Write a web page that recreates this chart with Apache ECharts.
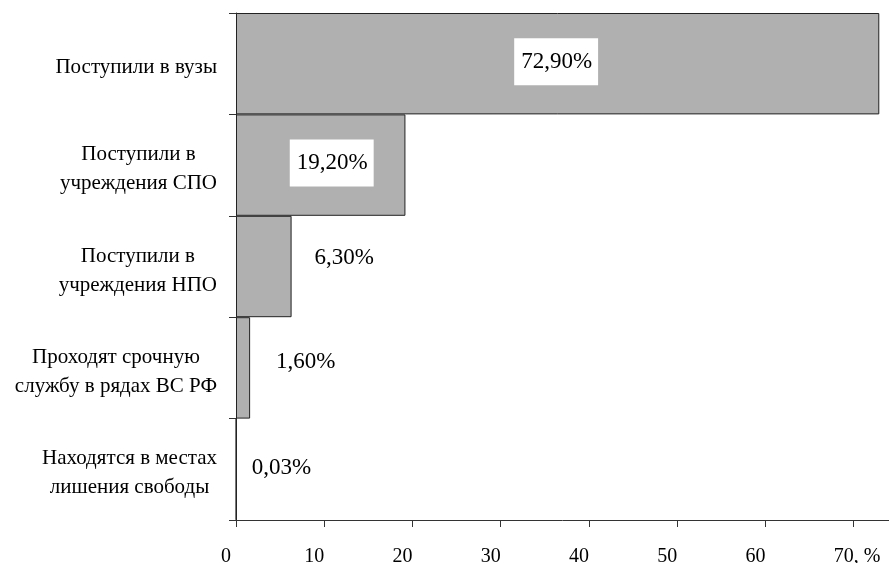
<!DOCTYPE html>
<html>
<head>
<meta charset="utf-8">
<script src="https://cdn.jsdelivr.net/npm/echarts@6/dist/echarts.min.js"></script>
<style>
  html, body { margin: 0; padding: 0; background: #fff; }
  #chart { width: 889px; height: 563px; }
</style>
</head>
<body>
<div id="chart"></div>
<script>
// Destinations of school graduates, share in percent
const categories = [
  'Поступили в вузы',
  'Поступили в\nучреждения СПО',
  'Поступили в\nучреждения НПО',
  'Проходят срочную\nслужбу в рядах ВС РФ',
  'Находятся в местах\nлишения свободы'
];
const shares = [72.9, 19.2, 6.3, 1.6, 0.03];
const tickValues = [0, 10, 20, 30, 40, 50, 60, 70];
const tickLabels = ['0', '10', '20', '30', '40', '50', '60', '70, %'];

const FONT = "'Liberation Serif', 'Times New Roman', serif";

// value label placement for each bar (boxed labels sit inside, the rest to the right)
const labelLayout = [
  { position: 'inside', offset: [-1.5, -2], boxed: true },
  { position: 'inside', offset: [11, -2], boxed: true },
  { position: 'right', distance: 23, offset: [0, -9] },
  { position: 'right', distance: 26, offset: [0, -6] },
  { position: 'right', distance: 15, offset: [0, -1.5] }
];

function formatShare(v) {
  return v.toFixed(2).replace('.', ',') + '%';
}

const barData = shares.map(function (v, i) {
  const lay = labelLayout[i];
  const label = {
    show: true,
    position: lay.position,
    offset: lay.offset,
    formatter: formatShare(v),
    color: '#000',
    fontFamily: FONT,
    fontSize: 23,
    lineHeight: 23
  };
  if (lay.distance != null) label.distance = lay.distance;
  if (lay.boxed) {
    label.backgroundColor = '#fff';
    label.padding = [12, 6, 12, 7];
  }
  return { value: v, label: label };
});

const chart = echarts.init(document.getElementById('chart'), null, { renderer: 'canvas' });

chart.setOption({
  animation: false,
  backgroundColor: '#fff',
  grid: {
    left: 236, right: 0, top: 13, bottom: 43,
    containLabel: false,
    outerBoundsMode: 'none'
  },
  xAxis: {
    type: 'value',
    min: 0,
    max: 74,
    splitLine: { show: false },
    axisLine: { show: true, lineStyle: { color: '#333', width: 1 } },
    axisTick: {
      show: true,
      length: 7,
      inside: false,
      customValues: tickValues,
      lineStyle: { color: '#333', width: 1 }
    },
    axisLabel: {
      customValues: tickValues,
      margin: 27,
      color: '#000',
      fontFamily: FONT,
      fontSize: 20,
      padding: [0, 20, 0, 0],
      formatter: function (value) {
        const idx = tickValues.indexOf(value);
        const text = idx >= 0 ? tickLabels[idx] : '';
        if (idx === tickValues.length - 1) {
          // keep the number under its tick and let the unit trail off to the right
          return '{sp|}' + text;
        }
        return text;
      },
      rich: { sp: { width: 27 } }
    }
  },
  yAxis: {
    type: 'category',
    inverse: true,
    data: categories,
    axisLine: { show: true, lineStyle: { color: '#333', width: 1 } },
    axisTick: { show: true, length: 7, inside: false, lineStyle: { color: '#333', width: 1 } },
    splitLine: { show: false },
    axisLabel: {
      margin: 19,
      align: 'right',
      padding: [8, 0, 0, 0],
      formatter: function (value) {
        return value.split('\n').map(function (line) {
          return '{c|' + line + '}';
        }).join('\n');
      },
      rich: {
        c: {
          align: 'center',
          color: '#000',
          fontFamily: FONT,
          fontSize: 21,
          lineHeight: 29
        }
      }
    }
  },
  series: [{
    type: 'bar',
    data: barData,
    barCategoryGap: '0%',
    itemStyle: { color: '#b0b0b0', borderColor: '#222', borderWidth: 1 },
    emphasis: { disabled: true }
  }]
});
</script>
</body>
</html>
